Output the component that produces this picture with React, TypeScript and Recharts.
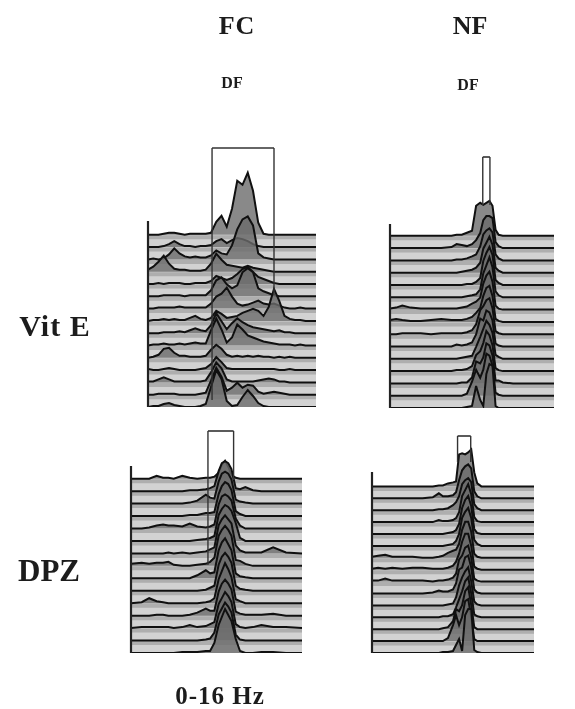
import React from "react";
import { ComposedChart, Area, Line, XAxis, YAxis, ReferenceArea, ReferenceLine } from "recharts";

// frequency grids (Hz)
const fcVitFreqs = [0,0.5,1,1.5,2,2.5,3,3.5,4,4.5,5,5.5,6,6.5,7,7.5,8,8.5,9,9.5,10,10.5,11,11.5,12,12.5,13,13.5,14,14.5,15,15.5,16];
const nfVitFreqs = [0,0.6,1.2,2,3,4,5,6,6.5,7,7.5,8,8.4,8.8,9.1,9.4,9.7,10,10.3,10.6,11,12,14,16];
const fcDpzFreqs = [0,1,1.7,2.4,3,3.5,4,4.8,5.5,6.2,7,7.4,7.8,8.2,8.5,8.8,9.1,9.4,9.8,10.2,10.7,11.4,12.2,13.3,14.5,16];
const nfDpzFreqs = [0,0.6,1.3,2,3,4,5,6,6.6,7,7.5,8,8.3,8.6,8.9,9.2,9.5,9.8,10.1,10.4,10.8,12,14,16];

// ridge amplitudes, back row first
const fcVitRidges = [
  [0,0,0,1,2,2,1,0,1,1,1,1,2,13,19,8,26,54,50,62,44,12,1,0,0,0,0,0,0,0,0,0,0],
  [0,0,0,1,3,6,3,1,1,0,1,1,2,6,8,4,7,9,8,6,3,1,0,0,0,0,0,0,0,0,0,0,0],
  [0,1,0,1,5,11,6,3,2,3,2,2,4,9,6,5,14,30,40,43,34,6,2,1,0,0,0,0,0,0,0,0,0],
  [2,5,10,16,8,3,2,2,1,1,1,2,8,18,12,7,6,5,4,6,4,3,2,1,0,0,0,0,0,0,0,0,0],
  [0,0,1,0,1,1,1,0,0,1,1,1,3,8,6,4,6,10,15,17,12,7,5,3,1,0,0,0,0,0,0,0,0],
  [0,0,0,1,1,1,1,0,1,1,1,1,6,16,19,12,8,11,24,28,24,8,5,3,1,0,0,0,0,0,0,0,0],
  [0,0,1,1,1,1,2,1,1,1,1,1,5,12,15,21,12,5,3,4,6,8,5,4,5,3,1,0,0,1,0,0,0],
  [0,1,1,2,1,2,1,1,3,5,2,1,3,10,7,3,4,5,8,10,12,10,5,14,32,20,5,2,1,1,0,0,0],
  [0,0,0,1,1,1,2,1,3,5,3,2,8,20,12,4,10,15,11,8,6,5,4,3,2,3,1,1,0,0,0,0,0],
  [0,1,1,2,1,1,2,1,2,3,2,2,15,27,16,3,8,21,16,10,8,6,4,3,2,1,1,1,0,1,0,0,0],
  [0,1,3,9,10,5,2,2,1,1,1,2,8,13,9,3,1,2,1,2,1,2,1,1,0,1,0,1,0,0,0,0,0],
  [1,0,0,1,2,1,0,0,0,0,1,2,6,13,8,2,1,1,1,1,1,1,1,1,1,0,0,1,0,0,0,0,0],
  [1,1,3,5,3,1,1,1,1,1,1,2,10,20,14,3,1,1,1,1,1,2,3,4,3,1,1,0,0,0,0,0,0],
  [0,0,1,1,1,1,0,0,0,0,1,2,14,27,18,4,7,12,7,10,9,3,1,2,3,2,1,0,0,0,0,0,0],
  [0,1,1,3,4,2,1,0,0,0,1,3,20,37,28,6,1,2,10,17,11,4,1,0,0,0,0,0,0,0,0,0,0],
];
const nfVitRidges = [
  [0,0,0,0,0,0,0,0,1,1,3,5,30,33,31,33,35,30,6,1,0,0,0,0],
  [0,0,0,0,0,0,0,1,4,3,2,4,8,15,28,32,32,30,6,2,0,0,0,0],
  [0,0,0,0,0,0,0,0,1,1,2,4,6,14,26,30,32,28,6,2,0,0,0,0],
  [0,0,0,0,0,0,0,0,0,1,2,3,5,10,24,30,36,28,5,2,0,0,0,0],
  [0,0,0,0,0,0,0,0,0,0,1,1,3,7,24,32,38,30,5,2,0,0,0,0],
  [0,0,0,0,0,0,0,0,0,0,1,2,3,8,24,32,40,30,6,2,0,0,0,0],
  [1,2,4,2,1,1,1,1,1,2,3,6,8,12,26,34,38,28,4,1,0,0,0,0],
  [2,3,2,1,1,2,3,2,2,2,3,5,9,14,26,34,36,26,3,1,0,0,0,0],
  [0,0,1,1,1,0,1,1,1,1,2,4,10,24,28,34,36,26,3,1,0,0,0,0],
  [0,0,0,0,0,0,0,0,2,1,2,4,12,28,26,36,34,26,3,1,0,0,0,0],
  [0,0,0,0,0,0,0,0,0,1,2,3,12,22,30,38,34,26,4,2,0,0,0,0],
  [0,0,0,0,0,0,0,0,1,1,2,5,16,20,28,40,36,26,3,1,0,0,0,0],
  [0,0,0,0,0,0,0,0,0,1,1,6,22,20,26,40,38,28,3,3,1,0,0,0],
  [0,0,0,0,0,0,0,0,0,0,2,14,26,18,26,42,40,30,3,1,0,0,0,0],
  [0,0,0,0,0,0,0,0,0,0,1,2,22,8,2,34,44,42,2,0,0,0,0,0],
];
const fcDpzRidges = [
  [0,0,0,3,1,1,0,3,1,0,1,1,2,6,14,18,12,4,1,0,0,0,0,0,0,0],
  [0,0,0,0,0,0,0,0,1,1,2,3,5,20,28,30,28,22,3,2,4,1,0,0,0,0],
  [0,0,0,0,0,0,0,0,1,3,9,6,5,22,30,32,30,24,4,2,1,0,0,0,0,0],
  [0,0,0,0,0,0,0,0,1,1,3,3,4,22,30,34,32,26,5,2,0,0,0,0,0,0],
  [0,0,1,3,4,3,3,2,5,2,1,2,4,24,32,34,32,28,10,3,0,0,0,0,0,0],
  [0,0,0,0,0,0,0,0,0,1,2,3,5,26,32,36,34,30,18,3,0,0,0,0,0,0],
  [0,0,0,0,0,1,0,1,0,1,2,4,6,28,34,38,34,30,8,3,1,1,1,6,1,0],
  [2,3,2,3,3,4,1,0,0,1,2,4,8,30,36,40,36,30,6,5,2,0,0,0,0,0],
  [0,0,0,0,0,0,0,0,0,3,8,5,6,28,36,40,34,28,5,2,1,0,0,0,0,0],
  [0,0,0,0,0,0,0,0,0,0,1,3,5,26,34,38,34,28,5,2,1,0,0,0,0,0],
  [0,1,5,2,1,0,0,0,0,0,1,2,5,24,32,40,34,26,4,2,0,0,0,0,0,0],
  [0,0,0,1,1,0,0,0,1,3,7,5,5,24,32,36,32,26,4,2,1,1,1,2,0,0],
  [0,1,1,1,1,1,0,1,3,1,2,4,6,24,30,36,32,26,4,1,0,1,3,1,1,0],
  [0,0,0,0,0,0,0,0,0,0,1,2,8,26,32,38,34,28,6,1,0,0,0,0,0,0],
  [0,0,0,0,0,0,0,1,1,1,2,2,10,28,36,44,38,32,14,2,0,0,1,1,0,0],
];
const nfDpzRidges = [
  [0,0,0,0,0,0,0,0,1,1,3,4,5,32,33,32,34,37,14,3,0,0,0,0],
  [0,0,0,0,0,0,0,1,5,2,2,3,6,18,28,32,34,30,7,2,0,0,0,0],
  [0,0,0,0,0,0,0,0,1,1,2,5,8,14,26,30,32,28,6,2,0,0,0,0],
  [0,0,0,0,0,0,0,0,2,1,1,2,4,10,26,32,38,28,5,1,0,0,0,0],
  [0,0,0,0,0,0,0,0,0,0,1,2,4,10,26,34,38,28,5,1,0,0,0,0],
  [0,0,0,0,0,0,0,0,0,0,1,2,5,12,28,34,38,28,6,2,0,0,0,0],
  [1,2,3,1,1,1,0,0,1,2,5,7,8,14,28,36,36,26,4,1,0,0,0,0],
  [1,2,1,2,1,2,2,1,1,1,2,4,8,16,28,36,36,24,3,1,0,0,0,0],
  [1,1,3,1,1,1,1,0,1,1,2,4,8,22,26,34,36,24,3,1,0,0,0,0],
  [0,0,0,0,0,0,0,1,3,2,2,4,10,24,26,36,38,26,4,1,0,0,0,0],
  [0,0,0,0,0,0,0,0,0,0,1,2,8,20,28,34,38,24,4,1,0,0,0,0],
  [0,0,0,0,0,0,0,0,0,1,1,3,10,18,26,36,40,24,3,1,0,0,0,0],
  [0,0,0,0,0,0,0,0,0,1,2,8,20,18,24,38,42,24,2,0,0,0,0,0],
  [0,0,0,0,0,0,0,0,0,0,3,16,26,16,24,40,42,24,2,0,0,0,0,0],
  [0,0,0,0,0,0,0,0,0,1,1,2,8,14,2,38,44,44,3,1,0,0,0,0],
];

const HZ_MAX = 16;
const MARGIN = 3;

type Box = { x1: number; x2: number; top: number; leftEnd: number; rightEnd: number };
type PanelProps = {
  left: number; right: number; top: number; bottom: number; axisTop: number; step: number;
  freqs: number[]; ridges: number[][]; box: Box;
};

function Panel({ left, right, top, bottom, axisTop, step, freqs, ridges, box }: PanelProps) {
  const n = ridges.length;
  const span = bottom - top;
  const data = freqs.map((hz, k) => {
    const row: Record<string, number | number[]> = { hz };
    ridges.forEach((r, i) => {
      const base = (n - 1 - i) * step;
      row[`a${i}`] = [base, base + r[k]];
      row[`l${i}`] = base + r[k];
      row[`s${i}`] = base - 2.5;
    });
    return row;
  });
  const topBase = (n - 1) * step;
  const boxTop = span - (box.top - top);
  const yOf = (py: number) => span - (py - top);
  const ink = "#222";
  return (
    <div style={{ position: "absolute", left: left - MARGIN, top: top - MARGIN, filter: "blur(0.7px)" }}>
      <ComposedChart
        width={right - left + MARGIN * 2}
        height={span + MARGIN * 2}
        data={data}
        margin={{ left: MARGIN, right: MARGIN, top: MARGIN, bottom: MARGIN }}
      >
        <XAxis dataKey="hz" type="number" domain={[0, HZ_MAX]} hide allowDataOverflow />
        <YAxis type="number" domain={[0, span]} hide allowDataOverflow />
        <ReferenceArea x1={0} x2={HZ_MAX} y1={0} y2={topBase} fill="#d2d2d2" fillOpacity={1} stroke="none" zIndex={10} />
        {ridges.flatMap((_, i) => [
          <Line key={`s${i}`} dataKey={`s${i}`} type="linear" stroke="#8f8f8f" strokeOpacity={0.55} strokeWidth={4} dot={false} activeDot={false} isAnimationActive={false} zIndex={50} />,
          <Area key={`a${i}`} dataKey={`a${i}`} type="linear" fill="#6c6c6c" fillOpacity={0.8} stroke="none" dot={false} activeDot={false} isAnimationActive={false} zIndex={100 + i * 2} />,
          <Line key={`l${i}`} dataKey={`l${i}`} type="linear" stroke="#101010" strokeWidth={2} dot={false} activeDot={false} isAnimationActive={false} zIndex={101 + i * 2} />,
        ])}
        <ReferenceLine segment={[{ x: 0, y: 0 }, { x: 0, y: yOf(axisTop) }]} stroke={ink} strokeWidth={2.2} ifOverflow="visible" zIndex={500} />
        <ReferenceLine segment={[{ x: box.x1, y: boxTop }, { x: box.x2, y: boxTop }]} stroke="#333" strokeWidth={1.6} ifOverflow="visible" zIndex={500} />
        <ReferenceLine segment={[{ x: box.x1, y: boxTop }, { x: box.x1, y: yOf(box.leftEnd) }]} stroke="#333" strokeWidth={1.4} ifOverflow="visible" zIndex={500} />
        <ReferenceLine segment={[{ x: box.x2, y: boxTop }, { x: box.x2, y: yOf(box.rightEnd) }]} stroke="#333" strokeWidth={1.4} ifOverflow="visible" zIndex={500} />
      </ComposedChart>
    </div>
  );
}

const serif = "'Liberation Serif', serif";
function Label({ x, y, size, text, spacing = 0 }: { x: number; y: number; size: number; text: string; spacing?: number }) {
  return (
    <div style={{ position: "absolute", left: x, top: y, transform: "translate(-50%,-50%)", fontFamily: serif, fontWeight: 700, fontSize: size, letterSpacing: spacing, color: "#1c1c1c", whiteSpace: "nowrap", lineHeight: 1, filter: "blur(0.4px)" }}>
      {text}
    </div>
  );
}

export default function App() {
  return (
    <div style={{ position: "absolute", left: 0, top: 0, width: 575, height: 709, background: "#fff", overflow: "hidden" }}>
      <Label x={237} y={26} size={26} spacing={1} text="FC" />
      <Label x={470} y={26} size={26} text="NF" />
      <Label x={232} y={83} size={16} text="DF" />
      <Label x={468} y={85} size={16} text="DF" />
      <Label x={55} y={326} size={30} spacing={1} text="Vit E" />
      <Label x={49} y={570} size={31} text="DPZ" />
      <Label x={220} y={695} size={25} spacing={1} text="0-16 Hz" />
      <Panel left={148} right={316} top={145} bottom={407} axisTop={221} step={12.3} freqs={fcVitFreqs} ridges={fcVitRidges}
        box={{ x1: 6.1, x2: 12, top: 148, leftEnd: 400, rightEnd: 295 }} />
      <Panel left={390} right={554} top={152} bottom={408} axisTop={224} step={12.3} freqs={nfVitFreqs} ridges={nfVitRidges}
        box={{ x1: 9.05, x2: 9.75, top: 157, leftEnd: 205, rightEnd: 205 }} />
      <Panel left={131} right={302} top={427} bottom={653} axisTop={466} step={12.45} freqs={fcDpzFreqs} ridges={fcDpzRidges}
        box={{ x1: 7.2, x2: 9.6, top: 431, leftEnd: 565, rightEnd: 480 }} />
      <Panel left={372} right={534} top={432} bottom={653} axisTop={472} step={11.9} freqs={nfDpzFreqs} ridges={nfDpzRidges}
        box={{ x1: 8.45, x2: 9.75, top: 436, leftEnd: 462, rightEnd: 462 }} />
    </div>
  );
}
